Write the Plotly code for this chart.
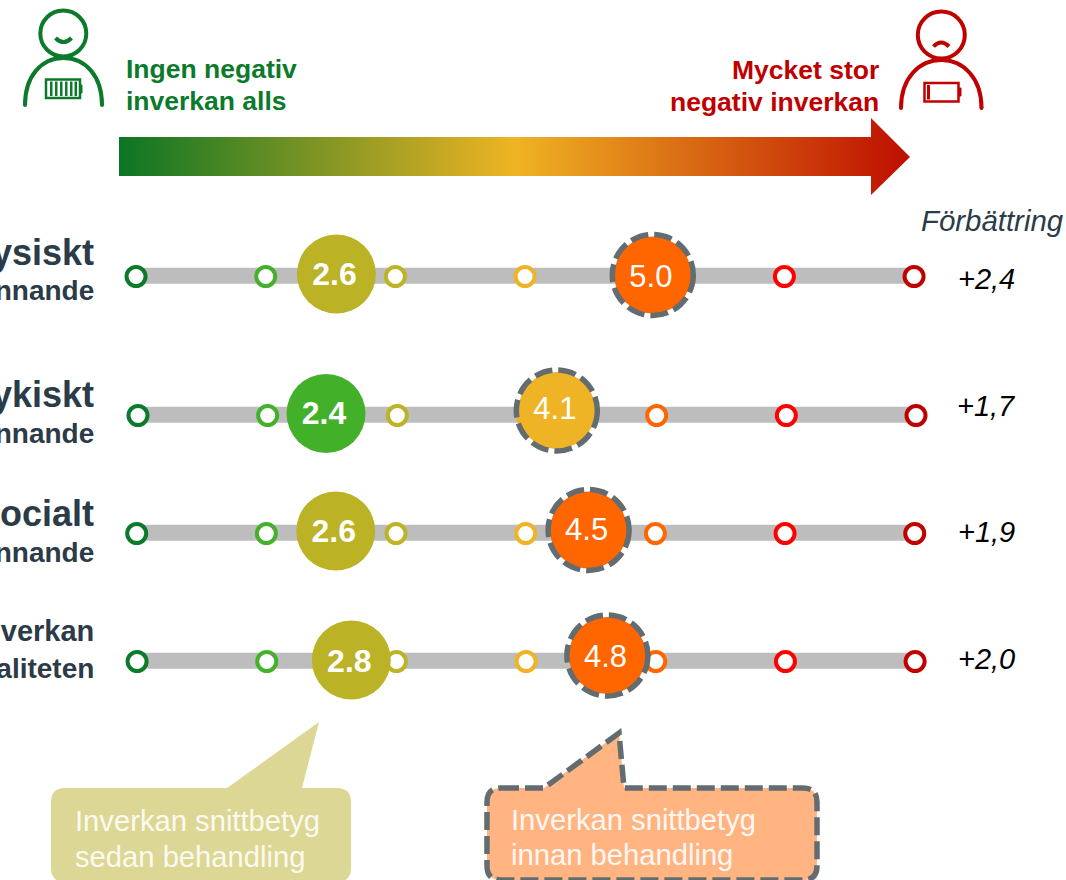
"""
Inverkan snittbetyg före och efter behandling, dumbbell style scale chart
"""

import plotly.graph_objects as go

# ── Data ──────────────────────────────────────────────────────────────────────

ROW_LABELS_TOP = ["Fysiskt", "Psykiskt", "Socialt", "Inverkan"]
ROW_LABELS_BOTTOM = ["välbefinnande", "välbefinnande", "välbefinnande", "på livskvaliteten"]

SCALE_TICKS = [1, 2, 3, 4, 5, 6, 7]
SCALE_COLORS = ["#0B7A2B", "#44B02C", "#BCB426", "#EFB425", "#FF6600", "#FF0000", "#C00000"]

SCORE_AFTER = ["2.6", "2.4", "2.6", "2.8"]
SCORE_BEFORE = ["5.0", "4.1", "4.5", "4.8"]
POS_AFTER = [2.54, 2.46, 2.535, 2.655]
POS_BEFORE = [4.98, 4.24, 4.485, 4.63]
COLOR_AFTER = ["#BBB225", "#43B02A", "#BBB225", "#BBB225"]
COLOR_BEFORE = ["#FF6600", "#EFB425", "#FF6600", "#FF6600"]

IMPROVEMENT = ["+2,4", "+1,7", "+1,9", "+2,0"]

# ── Layout constants (pixels) ─────────────────────────────────────────────────

W, H = 1066, 880
TICK_X0 = 136.7
TICK_STEP = 129.67
ROW_Y = [276.5, 415.5, 533.5, 661.5]
ROW_SHIFT = [-0.005, 0.01, 0.0, 0.003]
AFTER_Y = [274, 413.5, 531, 660]
BEFORE_Y = [275, 410.5, 530, 655.5]
AFTER_TEXT_Y = [277, 416, 534, 664]
BEFORE_TEXT_Y = [279, 411, 532, 659]
TEXT_NUDGE = -0.015
LABEL_TOP_Y = [252, 394, 513, 631]
LABEL_BOTTOM_Y = [290, 433, 552, 668]
LABEL_TOP_SIZE = [36, 36, 36, 29]
IMPROVEMENT_Y = [279, 406, 532, 659]

GREEN = "#0B7A2B"
RED = "#C00000"
SLATE = "#2B3B47"
DASH_GREY = "#626C71"
DASH = "18px,6px"
FONT = "Liberation Sans, Arial, sans-serif"

fig = go.Figure()

# ── Gradient arrow ────────────────────────────────────────────────────────────

fig.add_trace(go.Scatter(
    x=[119, 871, 871, 910, 871, 871, 119, 119],
    y=[137, 137, 118, 157, 195, 176, 176, 137],
    mode="lines", fill="toself", line=dict(width=0),
    fillgradient=dict(
        type="horizontal",
        colorscale=[[0, "#0C7525"], [0.5, "#EFB423"], [1, "#BE0E00"]],
    ),
    hoverinfo="skip",
))

# ── Scale rows ────────────────────────────────────────────────────────────────

for i, y in enumerate(ROW_Y):
    xs = [t + ROW_SHIFT[i] for t in SCALE_TICKS]
    fig.add_trace(go.Scatter(
        x=[xs[0], xs[-1]], y=[y - 0.7, y - 0.7], xaxis="x2",
        mode="lines", line=dict(color="#BDBDBD", width=16), hoverinfo="skip",
    ))
    fig.add_trace(go.Scatter(
        x=xs, y=[y] * len(xs), xaxis="x2", mode="markers",
        marker=dict(size=19, color="white", line=dict(color=SCALE_COLORS, width=4)),
        hoverinfo="skip",
    ))

# after treatment bubbles
fig.add_trace(go.Scatter(
    x=POS_AFTER, y=AFTER_Y, xaxis="x2", mode="markers",
    marker=dict(size=79, color=COLOR_AFTER, line=dict(width=0)),
    hoverinfo="skip",
))
fig.add_trace(go.Scatter(
    x=[p + TEXT_NUDGE for p in POS_AFTER], y=AFTER_TEXT_Y, xaxis="x2", mode="text",
    text=SCORE_AFTER, textposition="middle center",
    textfont=dict(family=FONT, size=32, color="white", weight="bold"),
    hoverinfo="skip",
))

# before treatment bubbles
fig.add_trace(go.Scatter(
    x=POS_BEFORE, y=BEFORE_Y, xaxis="x2", mode="markers",
    marker=dict(size=77, color=COLOR_BEFORE, line=dict(width=0)),
    hoverinfo="skip",
))
fig.add_trace(go.Scatter(
    x=[p + TEXT_NUDGE for p in POS_BEFORE], y=BEFORE_TEXT_Y, xaxis="x2", mode="text",
    text=SCORE_BEFORE, textposition="middle center",
    textfont=dict(family=FONT, size=31, color="white"),
    hoverinfo="skip",
))

shapes = []
radius = 40.5 / TICK_STEP
for px, py in zip(POS_BEFORE, BEFORE_Y):
    shapes.append(dict(
        type="circle", xref="x2", yref="y",
        x0=px - radius, x1=px + radius, y0=py - 40.5, y1=py + 40.5,
        line=dict(color=DASH_GREY, width=5.5, dash=DASH),
    ))

# ── Icons ─────────────────────────────────────────────────────────────────────

def circle(cx, cy, r, color, width=4, fill=None):
    return dict(type="circle", xref="x", yref="y",
                x0=cx - r, x1=cx + r, y0=cy - r, y1=cy + r,
                fillcolor=fill, line=dict(color=color, width=width))


def path(d, color, width=4, fill=None):
    return dict(type="path", xref="x", yref="y", path=d, fillcolor=fill,
                line=dict(color=color, width=width))


def rect(x0, y0, x1, y1, color, width=3, fill=None):
    return dict(type="rect", xref="x", yref="y", x0=x0, x1=x1, y0=y0, y1=y1,
                fillcolor=fill, line=dict(color=color, width=width))


def person(cx, head_y, r, left, right, top, bottom, color):
    mid = (left + right) / 2
    return [
        circle(cx, head_y, r, color),
        path(f"M{left},{bottom} C{left},{top + 18} {mid - 22},{top} {mid},{top} "
             f"C{mid + 22},{top} {right},{top + 18} {right},{bottom}", color),
        circle(left, bottom, 2, color, width=0, fill=color),
        circle(right, bottom, 2, color, width=0, fill=color),
    ]


shapes += person(63.3, 33.5, 23, 25, 102, 58, 105, GREEN)
shapes.append(path("M55.5,38 Q63.5,46 71.5,38", GREEN))
shapes.append(rect(46, 79.5, 80, 98, GREEN, width=2.5))
shapes.append(rect(80.5, 85, 82, 93, GREEN, width=1, fill=GREEN))
for bx in (51, 56, 61, 66, 71, 75.5):
    shapes.append(rect(bx, 82.5, bx + 0.5, 95, GREEN, width=2))

shapes += person(941.3, 35, 23.5, 901, 981.5, 60, 108, RED)
shapes.append(path("M933.5,46.5 Q941,38.5 949,46.5", RED))
shapes.append(rect(924.5, 83, 958.5, 101.5, RED, width=2.5))
shapes.append(rect(959, 88, 961, 96, RED, width=1, fill=RED))
shapes.append(rect(928, 86, 929, 98.5, RED, width=2))

# ── Callouts ──────────────────────────────────────────────────────────────────

shapes.append(path(
    "M65,788 L227,788 L319,722 L302,788 L337,788 Q351,788 351,802 L351,868 "
    "Q351,882 337,882 L65,882 Q51,882 51,868 L51,802 Q51,788 65,788 Z",
    "#DDD795", width=0, fill="#DDD795",
))
shapes.append(dict(
    type="path", xref="x", yref="y",
    path="M501,788 L544,788 L619,733 L624,788 L803,788 Q817,788 817,802 L817,866 "
         "Q817,880 803,880 L501,880 Q487,880 487,866 L487,802 Q487,788 501,788 Z",
    fillcolor="#FFB482",
    line=dict(color=DASH_GREY, width=5.5, dash=DASH),
))

# ── Text ──────────────────────────────────────────────────────────────────────

def note(text, x, y, size, color, anchor="left", bold=False, italic=False):
    # annotations carry about 2px of padding, take it off so x is the ink edge
    pad = {"left": -2, "right": 2, "center": 0}[anchor]
    fig.add_annotation(
        x=x + pad, y=y, xref="x", yref="y", text=text, showarrow=False,
        xanchor=anchor, yanchor="middle", align=anchor,
        font=dict(family=FONT, size=size, color=color,
                  weight="bold" if bold else "normal",
                  style="italic" if italic else "normal"),
    )


note("Ingen negativ", 126, 69, 26.5, GREEN, bold=True)
note("inverkan alls", 126, 101, 26.5, GREEN, bold=True)
note("Mycket stor", 879, 70, 26.5, RED, anchor="right", bold=True)
note("negativ inverkan", 879, 102, 26.5, RED, anchor="right", bold=True)
note("Förbättring", 921, 220, 29.4, SLATE, italic=True)

for i in range(len(ROW_Y)):
    note(ROW_LABELS_TOP[i], 94, LABEL_TOP_Y[i], LABEL_TOP_SIZE[i], SLATE, anchor="right", bold=True)
    note(ROW_LABELS_BOTTOM[i], 94, LABEL_BOTTOM_Y[i], 28, SLATE, anchor="right", bold=True)
    note(IMPROVEMENT[i], 986, IMPROVEMENT_Y[i], 29, "#000000", anchor="center", italic=True)

note("Inverkan snittbetyg", 75, 821, 29.2, "#FBFAF0")
note("sedan behandling", 75, 857, 29.2, "#FBFAF0")
note("Inverkan snittbetyg", 511, 820, 29.2, "#FFF8F2")
note("innan behandling", 511, 855, 29.2, "#FFF8F2")

# ── Figure ────────────────────────────────────────────────────────────────────

fig.update_layout(
    width=W, height=H,
    margin=dict(l=0, r=0, t=0, b=0),
    paper_bgcolor="white", plot_bgcolor="white",
    showlegend=False,
    shapes=shapes,
    xaxis=dict(range=[0, W], visible=False, fixedrange=True),
    xaxis2=dict(
        range=[1 - TICK_X0 / TICK_STEP, 1 + (W - TICK_X0) / TICK_STEP],
        overlaying="x", visible=False, fixedrange=True,
    ),
    yaxis=dict(range=[H, 0], visible=False, fixedrange=True),
)

fig.write_html(
    "out.html",
    config={"displayModeBar": False},
    post_script="document.body.style.margin='0';document.body.style.overflow='hidden';",
)
